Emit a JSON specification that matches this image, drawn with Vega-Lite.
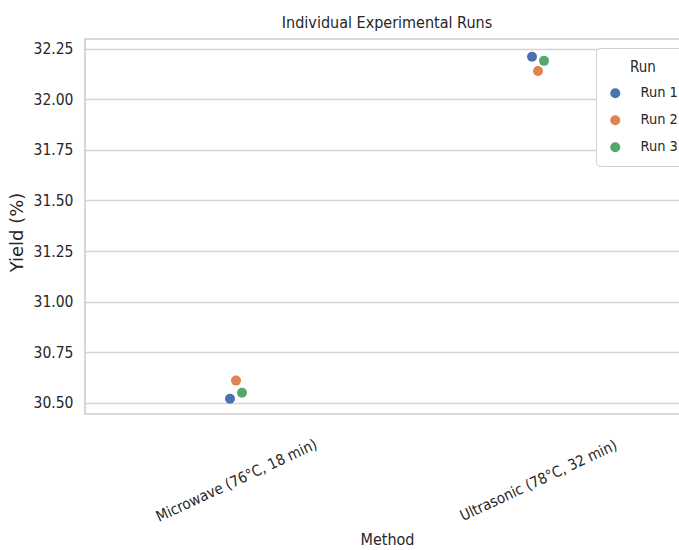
{
  "$schema": "https://vega.github.io/schema/vega-lite/v6.json",
  "autosize": {"type": "none"},
  "padding": {"left": 85, "top": 39, "right": 0, "bottom": 136},
  "width": 604,
  "height": 375,
  "background": "white",
  "title": {
    "text": "Individual Experimental Runs",
    "font": "DejaVu Sans Condensed",
    "fontSize": 16,
    "fontWeight": "normal",
    "color": "#262626",
    "anchor": "middle",
    "frame": "group",
    "baseline": "alphabetic",
    "offset": -5
  },
  "data": {
    "values": [
      {"Method": "Microwave (76°C, 18 min)", "Run": "Run 1", "Yield": 30.52},
      {"Method": "Microwave (76°C, 18 min)", "Run": "Run 2", "Yield": 30.61},
      {"Method": "Microwave (76°C, 18 min)", "Run": "Run 3", "Yield": 30.55},
      {"Method": "Ultrasonic (78°C, 32 min)", "Run": "Run 1", "Yield": 32.21},
      {"Method": "Ultrasonic (78°C, 32 min)", "Run": "Run 2", "Yield": 32.14},
      {"Method": "Ultrasonic (78°C, 32 min)", "Run": "Run 3", "Yield": 32.19}
    ]
  },
  "config": {
    "view": {"stroke": "#cccccc", "strokeWidth": 1.6},
    "font": "DejaVu Sans Condensed",
    "axis": {
      "labelFont": "DejaVu Sans Condensed",
      "titleFont": "DejaVu Sans Condensed",
      "labelColor": "#262626",
      "titleColor": "#262626",
      "titleFontWeight": "normal",
      "domain": false,
      "ticks": false,
      "gridColor": "#d4d4d4",
      "gridWidth": 1.3
    }
  },
  "mark": {"type": "circle", "size": 100, "opacity": 1},
  "encoding": {
    "x": {
      "field": "Method",
      "type": "nominal",
      "scale": {"type": "point", "padding": 0.5},
      "axis": {
        "title": "Method",
        "titleFontSize": 16,
        "titlePadding": 7,
        "labelFontSize": 15,
        "labelAngle": -25,
        "labelAlign": "center",
        "labelBaseline": "middle",
        "labelPadding": 66,
        "grid": false
      }
    },
    "xOffset": {
      "field": "Run",
      "type": "nominal",
      "scale": {"range": [-9, 9]}
    },
    "y": {
      "field": "Yield",
      "type": "quantitative",
      "scale": {"domain": [30.445, 32.298], "nice": false, "zero": false},
      "axis": {
        "title": "Yield (%)",
        "titleFont": "DejaVu Sans",
        "titleFontSize": 18,
        "titlePadding": 7,
        "titleY": 193,
        "labelFontSize": 15.5,
        "labelPadding": 12,
        "values": [30.5, 30.75, 31.0, 31.25, 31.5, 31.75, 32.0, 32.25],
        "format": ".2f",
        "grid": true
      }
    },
    "color": {
      "field": "Run",
      "type": "nominal",
      "scale": {"domain": ["Run 1", "Run 2", "Run 3"], "range": ["#4c72b0", "#dd8452", "#55a868"]},
      "legend": {
        "title": "Run",
        "orient": "none",
        "legendX": 511,
        "legendY": 9,
        "direction": "vertical",
        "titleFont": "DejaVu Sans Condensed",
        "titleFontSize": 15,
        "titleFontWeight": "normal",
        "titleColor": "#262626",
        "titleAnchor": "middle",
        "titlePadding": 11,
        "labelFont": "DejaVu Sans Condensed",
        "labelFontSize": 14.5,
        "labelColor": "#262626",
        "labelOffset": 18,
        "symbolType": "circle",
        "symbolSize": 100,
        "symbolStrokeWidth": 0,
        "rowPadding": 12,
        "padding": 12,
        "strokeColor": "#d0d0d0",
        "fillColor": "white",
        "cornerRadius": 4
      }
    }
  }
}
